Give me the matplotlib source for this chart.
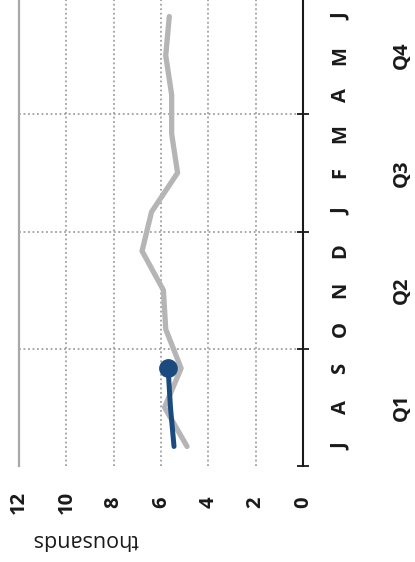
import matplotlib.pyplot as plt

plt.rcParams["font.family"] = ["Open Sans", "DejaVu Sans"]

# months July..June, bottom to top
MONTHS = ["J", "A", "S", "O", "N", "D", "J", "F", "M", "A", "M", "J"]
QUARTERS = ["Q1", "Q2", "Q3", "Q4"]
VALUE_TICKS = [0, 2, 4, 6, 8, 10, 12]

# previous year (grey), thousands
PRIOR = [4.9, 5.85, 5.15, 5.8, 5.9, 6.8, 6.4, 5.3, 5.55, 5.55, 5.8, 5.65]
# current year (blue), only first three months
CURRENT = [5.45, 5.6, 5.7]

GREY = "#b5b5b8"
BLUE = "#1b4b7e"
GRID = "#a0a0a0"
INK = "#1a1a1a"

W, H = 415, 562
fig = plt.figure(figsize=(W / 100, H / 100), dpi=100)
# axes in pixels: x 19..303, y -3..466 (top to bottom)
ax = fig.add_axes([19 / W, (H - 466) / H, 284 / W, 469 / H])

ypos = list(range(len(MONTHS)))

# chart is drawn rotated: value runs right-to-left, months bottom-to-top
ax.plot(PRIOR, ypos, color=GREY, lw=3.8, solid_capstyle="round",
        solid_joinstyle="round", zorder=3)
ax.plot(CURRENT, ypos[:len(CURRENT)], color=BLUE, lw=3.6,
        solid_capstyle="round", zorder=4)
ax.plot(CURRENT[-1:], ypos[len(CURRENT) - 1:len(CURRENT)], "o",
        color=BLUE, ms=12.5, zorder=5)

ax.set_xlim(12, 0)
ax.set_ylim(-0.5, 11.5)

# value gridlines (dotted), solid grey at 12
for v in VALUE_TICKS[1:-1]:
    ax.axvline(v, color=GRID, lw=1.3, ls=(0, (1, 1.5)), zorder=1)
# quarter separators
for b in [2.5, 5.5, 8.5]:
    ax.axhline(b, color=GRID, lw=1.3, ls=(0, (1, 1.5)), zorder=1)

for s in ["top", "bottom"]:
    ax.spines[s].set_visible(False)
ax.spines["left"].set_color("#a8a8a8")
ax.spines["left"].set_linewidth(1.6)
ax.spines["right"].set_color(INK)
ax.spines["right"].set_linewidth(1.5)

ax.set_xticks(VALUE_TICKS)
ax.set_xticklabels([str(v) for v in VALUE_TICKS], rotation=90,
                   fontsize=14.5, fontweight="bold", color=INK,
                   va="center")
ax.tick_params(axis="x", length=0, pad=26)

ax.yaxis.tick_right()
ax.set_yticks(ypos)
ax.set_yticklabels(MONTHS, rotation=90, fontsize=14.5, fontweight="bold",
                   color=INK, ha="center", va="center")
ax.tick_params(axis="y", which="major", length=0, pad=27)
ax.set_yticks([-0.5, 2.5, 5.5, 8.5], minor=True)
ax.tick_params(axis="y", which="minor", direction="inout", length=9,
               width=1.3, color=INK, right=True, left=False)

for i, q in enumerate(QUARTERS):
    ax.text(1.0 + 99 / 284, 3 * i + 1, q, transform=ax.get_yaxis_transform(),
            rotation=90, ha="center", va="center", fontsize=14.5,
            fontweight="bold", color=INK)

fig.text(85 / W, 1 - 540 / H, "thousands", rotation=180, ha="center",
         va="center", fontsize=15.5, color=INK)

fig.savefig("out.png", dpi=100)
